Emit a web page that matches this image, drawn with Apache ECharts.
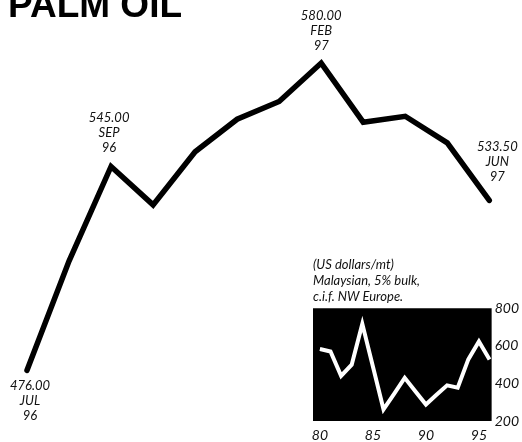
<!DOCTYPE html>
<html>
<head>
<meta charset="utf-8">
<script src="https://cdn.jsdelivr.net/npm/echarts@6/dist/echarts.min.js"></script>
<style>html,body{margin:0;padding:0;background:#fff}#c{width:522px;height:442px}</style>
</head>
<body>
<div id="c"></div>
<script>
const months = ['JUL','AUG','SEP','OCT','NOV','DEC','JAN','FEB','MAR','APR','MAY','JUN'];
const monthYears = ['96','96','96','96','96','96','97','97','97','97','97','97'];
const prices = [476.00, 513, 545.00, 532, 550, 561, 567, 580.00, 560, 562, 553, 533.50];
const labelledIdx = [0, 2, 7, 11];

const years = [80,81,82,83,84,85,86,87,88,89,90,91,92,93,94,95,96];
const yearlyPrices = [583,570,440,500,717,490,262,345,430,358,288,340,390,377,528,623,527];
const insetYTicks = [200,400,600,800];
const insetXTicks = [80,85,90,95];
const insetNote = ['(US dollars/mt)','Malaysian, 5% bulk,','c.i.f. NW Europe.'];

const FONT = 'Lato, "Liberation Sans", sans-serif';
const labelStyle = {fontFamily: FONT, fontStyle: 'italic', fontSize: 13, lineHeight: 15, color: '#111', align: 'center'};

const labelPos = {
  0: {position: 'bottom', distance: 8, offset: [3, 0]},
  2: {position: 'top', distance: 11, offset: [-2, 0]},
  7: {position: 'top', distance: 10},
  11: {position: 'top', distance: 16, offset: [8, 0]}
};

const mainData = prices.map((v, i) => {
  const item = {value: v};
  if (labelledIdx.includes(i)) {
    item.label = Object.assign({
      show: true,
      formatter: v.toFixed(2) + '\n' + months[i] + '\n' + monthYears[i]
    }, labelStyle, labelPos[i]);
  }
  return item;
});

const chart = echarts.init(document.getElementById('c'), null, {renderer: 'canvas'});
chart.setOption({
  animation: false,
  backgroundColor: '#fff',
  grid: [
    {left: 27, top: 4, width: 462.3, height: 413.6, show: false},
    {left: 313, top: 308.3, width: 179, height: 113.4, show: true, backgroundColor: '#000', borderWidth: 0}
  ],
  xAxis: [
    {gridIndex: 0, type: 'category', data: months, boundaryGap: false, show: false},
    {gridIndex: 1, type: 'value', min: 79.35, max: 96.2,
     axisLine: {show: false}, axisTick: {show: false}, splitLine: {show: false},
     axisLabel: {customValues: insetXTicks, margin: 7, fontFamily: FONT, fontStyle: 'italic', fontSize: 14, color: '#111'}}
  ],
  yAxis: [
    {gridIndex: 0, type: 'value', min: 460, max: 600, show: false},
    {gridIndex: 1, type: 'value', min: 200, max: 800, interval: 200, position: 'right',
     axisLine: {show: false}, axisTick: {show: false}, splitLine: {show: false},
     axisLabel: {margin: 3, fontFamily: FONT, fontStyle: 'italic', fontSize: 14, color: '#111'}}
  ],
  series: [
    {type: 'line', xAxisIndex: 0, yAxisIndex: 0, data: mainData, symbol: 'circle', symbolSize: 0, showSymbol: true,
     itemStyle: {color: '#000'},
     lineStyle: {color: '#000', width: 5.5, cap: 'round', join: 'miter'}},
    {type: 'line', xAxisIndex: 1, yAxisIndex: 1, data: years.map((y, i) => [y, yearlyPrices[i]]), symbol: 'none',
     lineStyle: {color: '#fff', width: 4, join: 'miter'}}
  ],
  graphic: [
    {type: 'text', left: 8, top: -12, style: {text: 'PALM OIL', font: 'bold 37px "Liberation Sans", Arial, sans-serif', fill: '#000'}},
    {type: 'text', left: 313, top: 257, style: {text: insetNote.join('\n'), fontFamily: FONT, fontStyle: 'italic', fontSize: 13, lineHeight: 16, fill: '#111'}}
  ]
});
</script>
</body>
</html>
